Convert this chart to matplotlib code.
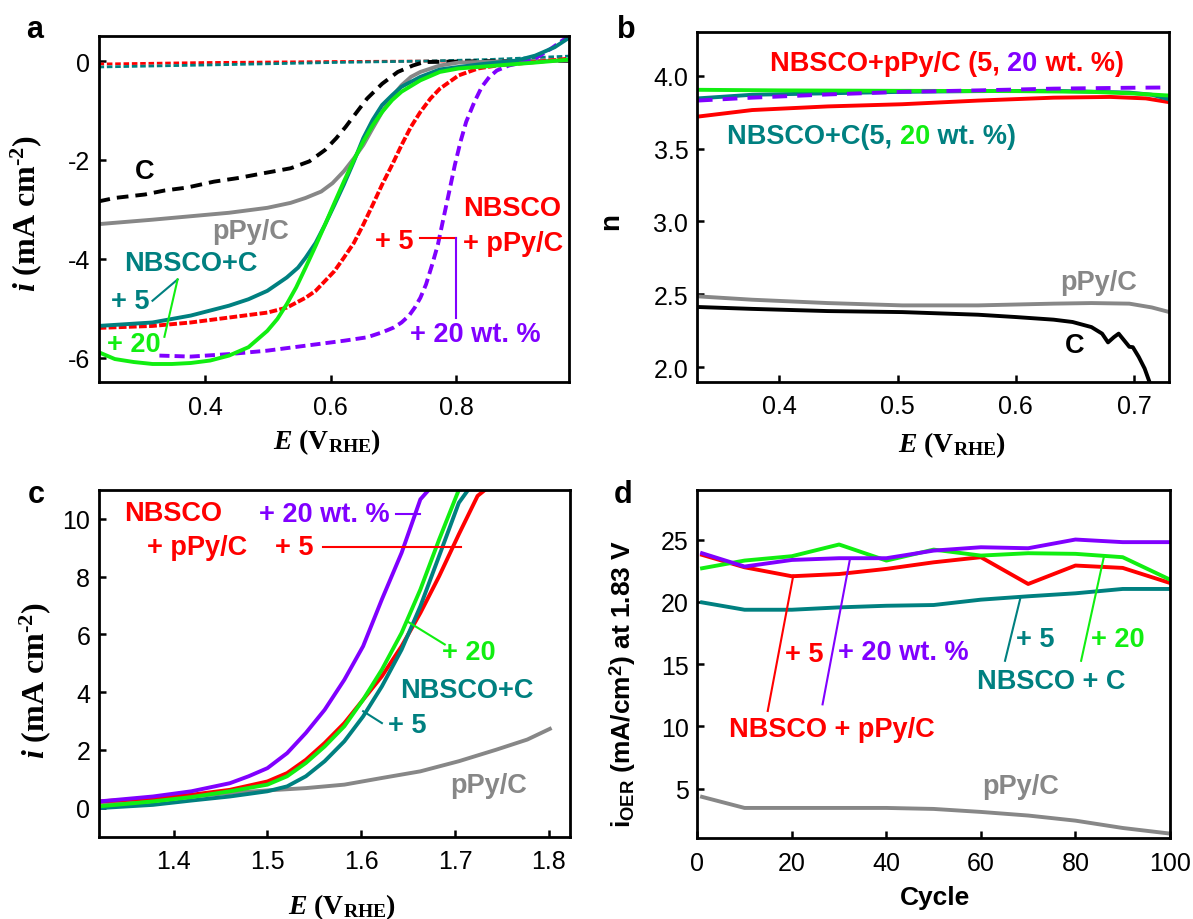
import matplotlib
matplotlib.use("Agg")
import matplotlib.pyplot as plt
from matplotlib import transforms
from matplotlib.ticker import FormatStrFormatter

plt.rcParams['font.family'] = 'Liberation Sans'
plt.rcParams['mathtext.fontset'] = 'custom'
plt.rcParams['mathtext.rm'] = 'Liberation Serif:bold'
plt.rcParams['mathtext.it'] = 'Liberation Serif:bold:italic'
plt.rcParams['mathtext.sf'] = 'Liberation Sans:bold'
plt.rcParams['axes.unicode_minus'] = False
plt.rcParams['axes.linewidth'] = 2.0

RED = '#ff0000'
TEAL = '#008080'
GREEN = '#11ee11'
PURPLE = '#8000ff'
GRAY = '#878787'

# ---- panel a: ORR polarisation curves ----
a_c_x = [0.230, 0.256, 0.304, 0.335, 0.371, 0.414, 0.451, 0.493, 0.536, 0.566, 0.591, 0.609,
         0.624, 0.640, 0.658, 0.682, 0.707, 0.731, 0.749, 0.865, 0.981]
a_c_y = [-2.84, -2.77, -2.70, -2.62, -2.56, -2.44, -2.37, -2.27, -2.17, -2.03, -1.80, -1.56,
         -1.33, -1.06, -0.76, -0.46, -0.22, -0.09, -0.02, 0.0, 0.0]
a_ppy_x = [0.230, 0.316, 0.377, 0.438, 0.499, 0.536, 0.560, 0.585, 0.603, 0.621, 0.637, 0.652,
           0.667, 0.682, 0.698, 0.713, 0.728, 0.743, 0.774, 0.804, 0.865, 0.981]
a_ppy_y = [-3.30, -3.21, -3.14, -3.07, -2.97, -2.87, -2.77, -2.64, -2.47, -2.23, -1.97, -1.70,
           -1.36, -1.03, -0.72, -0.49, -0.32, -0.22, -0.09, -0.03, -0.01, 0.01]
a_c5_x = [0.230, 0.316, 0.377, 0.438, 0.469, 0.499, 0.530, 0.548, 0.560, 0.576, 0.591, 0.606,
          0.621, 0.637, 0.652, 0.667, 0.682, 0.698, 0.713, 0.743, 0.774, 0.804, 0.835, 0.865,
          0.896, 0.926, 0.957, 0.981]
a_c5_y = [-5.36, -5.29, -5.15, -4.95, -4.82, -4.65, -4.38, -4.18, -3.98, -3.68, -3.31, -2.91,
          -2.50, -2.03, -1.56, -1.19, -0.89, -0.69, -0.52, -0.32, -0.17, -0.12, -0.07, -0.03,
          0.01, 0.11, 0.28, 0.48]
a_c20_x = [0.230, 0.256, 0.286, 0.316, 0.347, 0.377, 0.408, 0.438, 0.469, 0.499, 0.515, 0.530,
           0.545, 0.560, 0.576, 0.591, 0.606, 0.621, 0.637, 0.652, 0.667, 0.682, 0.698, 0.713,
           0.743, 0.774, 0.804, 0.865, 0.926, 0.981]
a_c20_y = [-5.89, -6.03, -6.09, -6.13, -6.13, -6.11, -6.06, -5.96, -5.79, -5.46, -5.22, -4.92,
           -4.58, -4.18, -3.74, -3.31, -2.87, -2.44, -2.00, -1.63, -1.30, -1.03, -0.79, -0.62,
           -0.39, -0.22, -0.15, -0.09, -0.03, 0.03]
a_p5_x = [0.230, 0.316, 0.377, 0.438, 0.499, 0.530, 0.560, 0.576, 0.591, 0.606, 0.621, 0.637,
          0.652, 0.667, 0.682, 0.698, 0.713, 0.728, 0.743, 0.759, 0.774, 0.804, 0.835, 0.865,
          0.926, 0.981]
a_p5_y = [-5.40, -5.36, -5.29, -5.19, -5.09, -4.99, -4.79, -4.65, -4.45, -4.25, -3.98, -3.68,
          -3.31, -2.91, -2.50, -2.10, -1.70, -1.33, -1.03, -0.76, -0.56, -0.29, -0.15, -0.09,
          -0.02, 0.05]
a_p20_x = [0.327, 0.377, 0.438, 0.499, 0.560, 0.621, 0.658, 0.682, 0.701, 0.713, 0.725, 0.734,
           0.743, 0.752, 0.762, 0.771, 0.780, 0.789, 0.798, 0.807, 0.816, 0.829, 0.841, 0.853,
           0.865, 0.884, 0.902, 0.926, 0.951, 0.970, 0.981]
a_p20_y = [-5.96, -5.98, -5.93, -5.86, -5.76, -5.66, -5.59, -5.49, -5.39, -5.29, -5.15, -4.99,
           -4.79, -4.52, -4.11, -3.71, -3.17, -2.64, -2.10, -1.63, -1.23, -0.83, -0.52, -0.32,
           -0.19, -0.09, -0.04, 0.05, 0.25, 0.42, 0.50]
a_ring_x = [0.23, 0.40, 0.60, 0.75, 0.85, 0.98]
a_ring_red = [-0.06, -0.03, -0.01, 0.0, 0.0, 0.03]
a_ring_teal = [-0.12, -0.08, -0.03, 0.0, 0.03, 0.10]

# ---- panel b: electron transfer number ----
b_green_x = [0.331, 0.40, 0.50, 0.60, 0.664, 0.696, 0.729]
b_green_y = [3.904, 3.90, 3.897, 3.895, 3.89, 3.88, 3.865]
b_purple_x = [0.331, 0.377, 0.441, 0.504, 0.568, 0.632, 0.696, 0.729]
b_purple_y = [3.83, 3.85, 3.872, 3.89, 3.90, 3.912, 3.918, 3.92]
b_teal_x = [0.331, 0.377, 0.441, 0.504, 0.568, 0.632, 0.696, 0.715, 0.729]
b_teal_y = [3.845, 3.87, 3.88, 3.89, 3.895, 3.897, 3.885, 3.87, 3.84]
b_red_x = [0.331, 0.377, 0.441, 0.504, 0.568, 0.632, 0.680, 0.710, 0.729]
b_red_y = [3.72, 3.765, 3.79, 3.805, 3.83, 3.85, 3.855, 3.845, 3.82]
b_gray_x = [0.331, 0.377, 0.441, 0.504, 0.568, 0.632, 0.664, 0.696, 0.715, 0.729]
b_gray_y = [2.486, 2.463, 2.44, 2.424, 2.424, 2.436, 2.44, 2.436, 2.41, 2.38]
b_black_x = [0.331, 0.377, 0.441, 0.504, 0.568, 0.600, 0.632, 0.648, 0.664, 0.673, 0.678,
             0.683, 0.687, 0.692, 0.696, 0.699, 0.704, 0.709, 0.713]
b_black_y = [2.413, 2.40, 2.385, 2.378, 2.36, 2.344, 2.326, 2.31, 2.275, 2.23, 2.17,
             2.206, 2.23, 2.18, 2.14, 2.137, 2.07, 1.99, 1.90]

# ---- panel c: OER polarisation curves ----
c_purple_x = [1.321, 1.378, 1.419, 1.460, 1.480, 1.500, 1.521, 1.541, 1.561, 1.582, 1.602,
              1.622, 1.643, 1.663, 1.672]
c_purple_y = [0.22, 0.39, 0.57, 0.85, 1.09, 1.37, 1.89, 2.59, 3.39, 4.43, 5.59, 7.21, 8.82,
              10.67, 11.0]
c_green_x = [1.321, 1.378, 1.419, 1.460, 1.500, 1.521, 1.541, 1.561, 1.582, 1.602, 1.622,
             1.643, 1.663, 1.683, 1.704]
c_green_y = [0.05, 0.22, 0.37, 0.57, 0.80, 1.09, 1.55, 2.12, 2.82, 3.74, 4.78, 6.05, 7.55,
             9.28, 11.0]
c_teal_x = [1.321, 1.378, 1.419, 1.460, 1.500, 1.521, 1.541, 1.561, 1.582, 1.602, 1.622,
            1.643, 1.663, 1.683, 1.704, 1.714]
c_teal_y = [-0.01, 0.10, 0.25, 0.39, 0.57, 0.74, 1.09, 1.61, 2.30, 3.16, 4.20, 5.47, 6.97,
            8.71, 10.55, 11.0]
c_red_x = [1.321, 1.378, 1.419, 1.460, 1.500, 1.521, 1.541, 1.561, 1.582, 1.602, 1.622,
           1.643, 1.663, 1.683, 1.704, 1.724, 1.732]
c_red_y = [0.22, 0.33, 0.45, 0.62, 0.91, 1.20, 1.66, 2.24, 2.93, 3.74, 4.55, 5.59, 6.74,
           8.01, 9.46, 10.79, 11.0]
c_gray_x = [1.321, 1.378, 1.419, 1.460, 1.500, 1.541, 1.582, 1.622, 1.663, 1.704, 1.744,
            1.777, 1.801]
c_gray_y = [0.18, 0.28, 0.39, 0.51, 0.60, 0.68, 0.80, 1.03, 1.26, 1.61, 2.01, 2.36, 2.73]

# ---- panel d: OER stability ----
cycles = [1, 10, 20, 30, 40, 50, 60, 70, 80, 90, 100]
d_purple = [23.9, 22.83, 23.36, 23.5, 23.5, 24.11, 24.38, 24.3, 25.0, 24.79, 24.79]
d_green = [22.69, 23.31, 23.66, 24.6, 23.31, 24.19, 23.71, 23.9, 23.85, 23.58, 21.78]
d_red = [23.77, 22.77, 22.05, 22.23, 22.64, 23.17, 23.58, 21.43, 22.91, 22.72, 21.51]
d_teal = [19.95, 19.36, 19.36, 19.55, 19.68, 19.74, 20.17, 20.44, 20.68, 21.03, 21.03]
d_gray = [4.33, 3.44, 3.44, 3.44, 3.44, 3.36, 3.12, 2.83, 2.42, 1.83, 1.38]

LW = 2.8
ANN = dict(fontsize=19.5, fontweight='bold', ha='center', va='center')
YLAB_SERIF = r'$i$ (mA cm$^{\text{-2}}$)'
XLAB_SERIF = r'$E$ (V$_{\rm RHE}$)'


def style(ax, xlim, ylim, xticks, yticks, xfmt, yfmt):
    ax.set_xlim(*xlim)
    ax.set_ylim(*ylim)
    ax.set_xticks(xticks)
    ax.set_yticks(yticks)
    ax.xaxis.set_major_formatter(FormatStrFormatter(xfmt))
    ax.yaxis.set_major_formatter(FormatStrFormatter(yfmt))
    ax.tick_params(direction='in', length=5, width=1.8, labelsize=18)
    ax.tick_params(axis='x', pad=9)
    ax.tick_params(axis='y', pad=6)


def colored_text(ax, x, y, pieces, **kw):
    renderer = ax.figure.canvas.get_renderer()
    t = ax.transData
    for s, c in pieces:
        txt = ax.text(x, y, s, color=c, transform=t, **kw)
        txt.draw(renderer)
        ex = txt.get_window_extent(renderer)
        t = transforms.offset_copy(txt.get_transform(), x=ex.width, units='dots')


fig = plt.figure(figsize=(11.93, 9.2), dpi=100)
ax_a = fig.add_axes([0.0826, 0.5834, 0.3944, 0.376])
ax_b = fig.add_axes([0.5839, 0.584, 0.3964, 0.380])
ax_c = fig.add_axes([0.0826, 0.0895, 0.3948, 0.377])
ax_d = fig.add_axes([0.5845, 0.0877, 0.3962, 0.3789])

# panel a
ax_a.plot(a_ring_x, a_ring_red, color=RED, lw=2, dashes=(2, 1))
ax_a.plot(a_ring_x, a_ring_teal, color=TEAL, lw=2, dashes=(2, 1))
ax_a.plot(a_c_x, a_c_y, color='black', lw=LW, dashes=(3, 1.8))
ax_a.plot(a_ppy_x, a_ppy_y, color=GRAY, lw=LW)
ax_a.plot(a_p5_x, a_p5_y, color=RED, lw=LW, dashes=(2, 0.6))
ax_a.plot(a_p20_x, a_p20_y, color=PURPLE, lw=LW, dashes=(2.6, 1.3))
ax_a.plot(a_c5_x, a_c5_y, color=TEAL, lw=LW)
ax_a.plot(a_c20_x, a_c20_y, color=GREEN, lw=LW)
style(ax_a, (0.23, 0.98), (-6.5, 0.5), [0.4, 0.6, 0.8], [-6, -4, -2, 0], '%.1f', '%d')
ax_a.text(0.304, -2.23, 'C', color='black', **ANN)
ax_a.text(0.472, -3.44, 'pPy/C', color=GRAY, **ANN)
ax_a.text(0.377, -4.08, 'NBSCO+C', color=TEAL, **ANN)
ax_a.text(0.280, -4.85, '+ 5', color=TEAL, **ANN)
ax_a.text(0.286, -5.72, '+ 20', color=GREEN, **ANN)
ax_a.plot([0.316, 0.356], [-4.85, -4.42], color=TEAL, lw=1.5)
ax_a.plot([0.335, 0.356], [-5.58, -4.42], color=GREEN, lw=1.5)
ax_a.text(0.890, -2.97, 'NBSCO', color=RED, **ANN)
ax_a.text(0.701, -3.64, '+ 5', color=RED, **ANN)
ax_a.text(0.890, -3.68, '+ pPy/C', color=RED, **ANN)
ax_a.plot([0.743, 0.799], [-3.59, -3.59], color=RED, lw=1.5)
ax_a.plot([0.799, 0.799], [-3.59, -5.19], color=PURPLE, lw=1.5)
ax_a.text(0.831, -5.52, '+ 20 wt. %', color=PURPLE, **ANN)
ax_a.text(-0.154, 0.492, YLAB_SERIF, transform=ax_a.transAxes,
          rotation=90, ha='center', va='center', fontsize=23,
          family='Liberation Serif', fontweight='bold')
ax_a.text(0.485, -0.17, XLAB_SERIF, transform=ax_a.transAxes,
          ha='center', va='center', fontsize=20,
          family='Liberation Serif', fontweight='bold')

# panel b
ax_b.plot(b_gray_x, b_gray_y, color=GRAY, lw=LW)
ax_b.plot(b_black_x, b_black_y, color='black', lw=LW)
ax_b.plot(b_red_x, b_red_y, color=RED, lw=LW)
ax_b.plot(b_teal_x, b_teal_y, color=TEAL, lw=LW)
ax_b.plot(b_green_x, b_green_y, color=GREEN, lw=LW)
ax_b.plot(b_purple_x, b_purple_y, color=PURPLE, lw=LW, dashes=(3.8, 2.6))
style(ax_b, (0.33, 0.73), (1.9, 4.3), [0.4, 0.5, 0.6, 0.7], [2.0, 2.5, 3.0, 3.5, 4.0],
      '%.1f', '%.1f')
ax_b.text(0.670, 2.585, 'pPy/C', color=GRAY, **ANN)
ax_b.text(0.650, 2.149, 'C', color='black', **ANN)
ax_b.text(-0.18, 0.461, 'n', transform=ax_b.transAxes, rotation=90,
          ha='center', va='center', fontsize=20, fontweight='bold')
ax_b.text(0.54, -0.178, XLAB_SERIF, transform=ax_b.transAxes,
          ha='center', va='center', fontsize=20,
          family='Liberation Serif', fontweight='bold')

# panel c
ax_c.plot(c_gray_x, c_gray_y, color=GRAY, lw=LW)
ax_c.plot(c_red_x, c_red_y, color=RED, lw=LW)
ax_c.plot(c_teal_x, c_teal_y, color=TEAL, lw=LW)
ax_c.plot(c_green_x, c_green_y, color=GREEN, lw=LW)
ax_c.plot(c_purple_x, c_purple_y, color=PURPLE, lw=LW)
style(ax_c, (1.32, 1.822), (-1.0, 11.0), [1.4, 1.5, 1.6, 1.7, 1.8], [0, 2, 4, 6, 8, 10],
      '%.1f', '%d')
ax_c.text(1.399, 10.21, 'NBSCO', color=RED, **ANN)
ax_c.text(1.425, 9.03, '+ pPy/C', color=RED, **ANN)
ax_c.text(1.561, 10.18, '+ 20 wt. %', color=PURPLE, **ANN)
ax_c.plot([1.637, 1.663], [10.18, 10.18], color=PURPLE, lw=1.5)
ax_c.text(1.529, 9.03, '+ 5', color=RED, **ANN)
ax_c.plot([1.559, 1.706], [9.03, 9.03], color=RED, lw=1.5)
ax_c.text(1.715, 5.38, '+ 20', color=GREEN, **ANN)
ax_c.plot([1.649, 1.689], [6.45, 5.65], color=GREEN, lw=1.5)
ax_c.text(1.712, 4.06, 'NBSCO+C', color=TEAL, **ANN)
ax_c.text(1.649, 2.88, '+ 5', color=TEAL, **ANN)
ax_c.plot([1.602, 1.622], [3.34, 2.93], color=TEAL, lw=1.5)
ax_c.text(1.736, 0.80, 'pPy/C', color=GRAY, **ANN)
ax_c.text(-0.134, 0.454, YLAB_SERIF, transform=ax_c.transAxes,
          rotation=90, ha='center', va='center', fontsize=23,
          family='Liberation Serif', fontweight='bold')
ax_c.text(0.516, -0.2, XLAB_SERIF, transform=ax_c.transAxes,
          ha='center', va='center', fontsize=20,
          family='Liberation Serif', fontweight='bold')

# panel d
ax_d.plot(cycles, d_gray, color=GRAY, lw=LW)
ax_d.plot(cycles, d_teal, color=TEAL, lw=LW)
ax_d.plot(cycles, d_red, color=RED, lw=LW)
ax_d.plot(cycles, d_green, color=GREEN, lw=LW)
ax_d.plot(cycles, d_purple, color=PURPLE, lw=LW)
style(ax_d, (0, 100), (1, 29), [0, 20, 40, 60, 80, 100], [5, 10, 15, 20, 25], '%d', '%d')
ax_d.text(22.7, 15.79, '+ 5', color=RED, **ANN)
ax_d.text(43.5, 15.93, '+ 20 wt. %', color=PURPLE, **ANN)
ax_d.plot([20.3, 14.9], [22.1, 11.23], color=RED, lw=1.5)
ax_d.plot([32.3, 26.5], [23.44, 11.76], color=PURPLE, lw=1.5)
ax_d.text(28.4, 9.75, 'NBSCO + pPy/C', color=RED, **ANN)
ax_d.plot([68.3, 65.1], [20.22, 15.26], color=TEAL, lw=1.5)
ax_d.text(71.4, 17.0, '+ 5', color=TEAL, **ANN)
ax_d.plot([86.0, 81.2], [23.58, 15.26], color=GREEN, lw=1.5)
ax_d.text(89.0, 17.0, '+ 20', color=GREEN, **ANN)
ax_d.text(74.9, 13.64, 'NBSCO + C', color=TEAL, **ANN)
ax_d.text(68.5, 5.19, 'pPy/C', color=GRAY, **ANN)
ax_d.text(-0.158, 0.447, r'$\mathsf{i_{OER}}$ (mA/cm$^\mathsf{2}$) at 1.83 V',
          transform=ax_d.transAxes, rotation=90, ha='center', va='center',
          fontsize=19, fontweight='bold')
ax_d.text(0.5035, -0.167, 'Cycle', transform=ax_d.transAxes,
          ha='center', va='center', fontsize=19, fontweight='bold')

# panel letters
for lab, x, y in [('a', 0.0293, 0.967), ('b', 0.5252, 0.967),
                  ('c', 0.0306, 0.462), ('d', 0.522, 0.462)]:
    fig.text(x, y, lab, fontsize=22, fontweight='bold', ha='center', va='center')

# multi-coloured labels in panel b
bkw = dict(fontsize=19.5, fontweight='bold', ha='left', va='center')
colored_text(ax_b, 0.392, 4.087,
             [('NBSCO+pPy/C (5, ', RED), ('20', PURPLE), (' wt. %)', RED)], **bkw)
colored_text(ax_b, 0.356, 3.59,
             [('NBSCO+C(5, ', TEAL), ('20', GREEN), (' wt. %)', TEAL)], **bkw)

fig.savefig('out.png', dpi=100)
